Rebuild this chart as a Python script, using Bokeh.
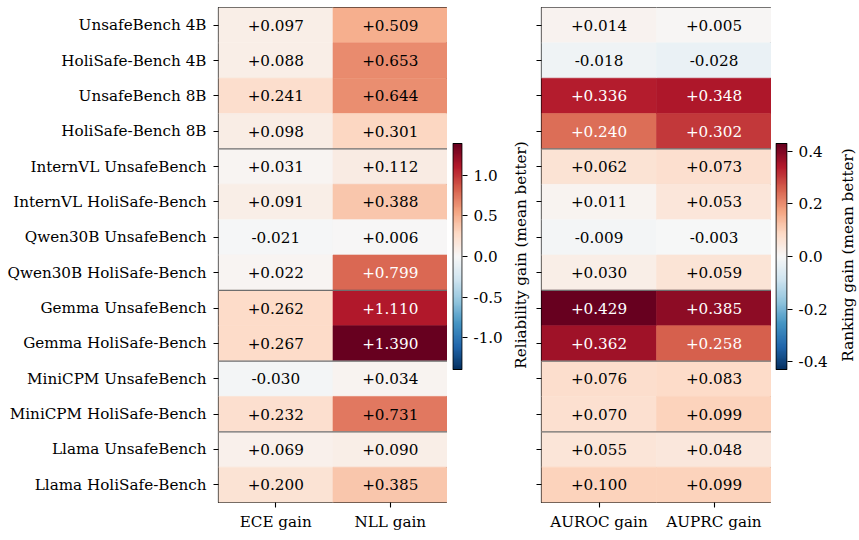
import numpy as np
from bokeh.plotting import figure
from bokeh.models import (ColumnDataSource, LinearColorMapper, FixedTicker, Range1d,
                          PrintfTickFormatter, Span)
from bokeh.layouts import row
from bokeh.embed import file_html
from bokeh.resources import INLINE
from bokeh.core.properties import value

# ---------------- data ----------------
rows = ["UnsafeBench 4B", "HoliSafe-Bench 4B", "UnsafeBench 8B", "HoliSafe-Bench 8B",
        "InternVL UnsafeBench", "InternVL HoliSafe-Bench", "Qwen30B UnsafeBench",
        "Qwen30B HoliSafe-Bench", "Gemma UnsafeBench", "Gemma HoliSafe-Bench",
        "MiniCPM UnsafeBench", "MiniCPM HoliSafe-Bench", "Llama UnsafeBench",
        "Llama HoliSafe-Bench"]
group_sizes = [4, 4, 2, 2, 2]

rel_cols = ["ECE gain", "NLL gain"]
rank_cols = ["AUROC gain", "AUPRC gain"]

ece_gain = [0.097, 0.088, 0.241, 0.098, 0.031, 0.091, -0.021, 0.022, 0.262, 0.267,
            -0.030, 0.232, 0.069, 0.200]
nll_gain = [0.509, 0.653, 0.644, 0.301, 0.112, 0.388, 0.006, 0.799, 1.110, 1.390,
            0.034, 0.731, 0.090, 0.385]
auroc_gain = [0.014, -0.018, 0.336, 0.240, 0.062, 0.011, -0.009, 0.030, 0.429, 0.362,
              0.076, 0.070, 0.055, 0.100]
auprc_gain = [0.005, -0.028, 0.348, 0.302, 0.073, 0.053, -0.003, 0.059, 0.385, 0.258,
              0.083, 0.099, 0.048, 0.099]

rel_ticks = [-1.0, -0.5, 0.0, 0.5, 1.0]
rank_ticks = [-0.4, -0.2, 0.0, 0.2, 0.4]
rel_label = "Reliability gain (mean better)"
rank_label = "Ranking gain (mean better)"

# ---------------- style / layout ----------------
FONT = "DejaVu Serif"
FS = "15.2px"
TOP, BOTTOM, H = 7, 38, 540
BAR_TOP, BAR_BOT = 143, 369         # page y of colour bar ends
rdbu11 = ['#053061', '#2166ac', '#4393c3', '#92c5de', '#d1e5f0', '#f7f7f7',
          '#fddbc7', '#f4a582', '#d6604d', '#b2182b', '#67001f']


def interp_palette(anchors, n=256):
    rgb = np.array([[int(h[i:i + 2], 16) for i in (1, 3, 5)] for h in anchors], float)
    pos = np.linspace(0, 1, len(anchors))
    t = np.linspace(0, 1, n)
    out = np.stack([np.interp(t, pos, rgb[:, k]) for k in range(3)], 1)
    return ["#%02x%02x%02x" % tuple(int(round(c)) for c in c3) for c3 in out]


PAL = interp_palette(rdbu11)


def style_axis(ax):
    ax.axis_line_color = None
    ax.major_tick_line_color = "black"
    ax.major_tick_line_width = 1.1
    ax.major_tick_out = 5
    ax.major_tick_in = 0
    ax.minor_tick_line_color = None
    ax.major_label_text_font = FONT
    ax.major_label_text_font_size = FS
    ax.major_label_text_color = "black"
    ax.axis_label_text_font = FONT
    ax.axis_label_text_font_size = FS
    ax.axis_label_text_font_style = "normal"
    ax.axis_label_text_color = "black"


def base_fig(width, border_left, border_right, **kw):
    p = figure(width=width, height=H, output_backend="svg", toolbar_location=None,
               min_border_left=border_left, min_border_right=border_right,
               min_border_top=TOP, min_border_bottom=BOTTOM, **kw)
    p.xgrid.visible = False
    p.ygrid.visible = False
    p.border_fill_color = "white"
    p.background_fill_color = "white"
    return p


def heatmap(cols, series, width, border_left, row_labels, side_label=None):
    nrow = len(rows)
    vmax = max(abs(v) for s in series for v in s)
    mapper = LinearColorMapper(palette=PAL, low=-vmax, high=vmax)
    xs, ys, vals, texts, tcolors = [], [], [], [], []
    for j, s in enumerate(series):
        for i, v in enumerate(s):
            xs.append(j + 0.5)
            ys.append(i + 0.5)
            vals.append(v)
            texts.append(f"{v:+.3f}")
            tcolors.append("white" if abs(v) > 0.54 * vmax else "black")
    src = ColumnDataSource(dict(x=xs, y=ys, v=vals, t=texts, tc=tcolors))
    p = base_fig(width, border_left, 0, x_range=Range1d(0, len(cols)),
                 y_range=Range1d(nrow, 0))
    cmap = {"field": "v", "transform": mapper}
    p.rect(x="x", y="y", width=1, height=1, source=src, fill_color=cmap,
           line_color=cmap, line_width=0.6)
    p.text(x="x", y="y", text="t", source=src, text_color="tc", text_align="center",
           text_baseline="middle", text_font=value(FONT), text_font_size=FS)
    for b in np.cumsum(group_sizes)[:-1]:
        p.add_layout(Span(location=float(b), dimension="width", line_color="#6e6e6e",
                          line_width=1.2))
    p.outline_line_color = "black"
    p.outline_line_width = 1.2
    p.xaxis.ticker = FixedTicker(ticks=[j + 0.5 for j in range(len(cols))])
    p.xaxis.major_label_overrides = {j + 0.5: c for j, c in enumerate(cols)}
    p.yaxis.ticker = FixedTicker(ticks=[i + 0.5 for i in range(nrow)])
    style_axis(p.xaxis[0])
    style_axis(p.yaxis[0])
    if row_labels:
        p.yaxis.major_label_overrides = {i + 0.5: r for i, r in enumerate(rows)}
        p.yaxis.major_label_standoff = 7
    else:
        p.yaxis.major_label_overrides = {i + 0.5: "" for i in range(nrow)}
        p.yaxis.major_label_standoff = 0
    if side_label:
        p.yaxis.axis_label = side_label
        p.yaxis.axis_label_standoff = 7
    return p, mapper, vmax


def colorbar(mapper, vmax, ticks, width, border_left):
    # frame spans the heatmap height; the bar occupies BAR_TOP..BAR_BOT
    per_px = 2 * vmax / (BAR_BOT - BAR_TOP)
    y_hi = vmax + (BAR_TOP - TOP) * per_px
    y_lo = -vmax - (H - BOTTOM - BAR_BOT) * per_px
    p = base_fig(width, border_left, width - border_left - 12,
                 x_range=Range1d(-0.04, 1.04), y_range=Range1d(y_lo, y_hi),
                 x_axis_location=None, y_axis_location="right")
    grad = np.linspace(-vmax, vmax, 256).reshape(256, 1)
    p.image(image=[grad], x=0, y=-vmax, dw=1, dh=2 * vmax, color_mapper=mapper)
    p.quad(left=0, right=1, bottom=-vmax, top=vmax, fill_color=None, line_color="black",
           line_width=1.1)
    p.outline_line_color = None
    p.yaxis.ticker = FixedTicker(ticks=ticks)
    p.yaxis.formatter = PrintfTickFormatter(format="%.1f")
    style_axis(p.yaxis[0])
    p.yaxis.major_label_standoff = 6
    return p


def label_strip(label, width, border_left):
    p = base_fig(width, border_left, 0, x_range=Range1d(0, 1), y_range=Range1d(0, 1),
                 x_axis_location=None)
    p.outline_line_color = None
    p.yaxis.ticker = FixedTicker(ticks=[])
    style_axis(p.yaxis[0])
    p.yaxis.major_tick_out = 0
    p.yaxis.axis_label = label
    p.yaxis.axis_label_standoff = 0
    return p


pA, mA, vA = heatmap(rel_cols, [ece_gain, nll_gain], 447, 218, True)
pB = colorbar(mA, vA, rel_ticks, 58, 5)
pC, mC, vC = heatmap(rank_cols, [auroc_gain, auprc_gain], 266, 36, False, rel_label)
pD = colorbar(mC, vC, rank_ticks, 64, 4)
pE = label_strip(rank_label, 24, 15)

layout = row(pA, pB, pC, pD, pE, spacing=0)
open("out.html", "w").write(file_html(layout, INLINE))
